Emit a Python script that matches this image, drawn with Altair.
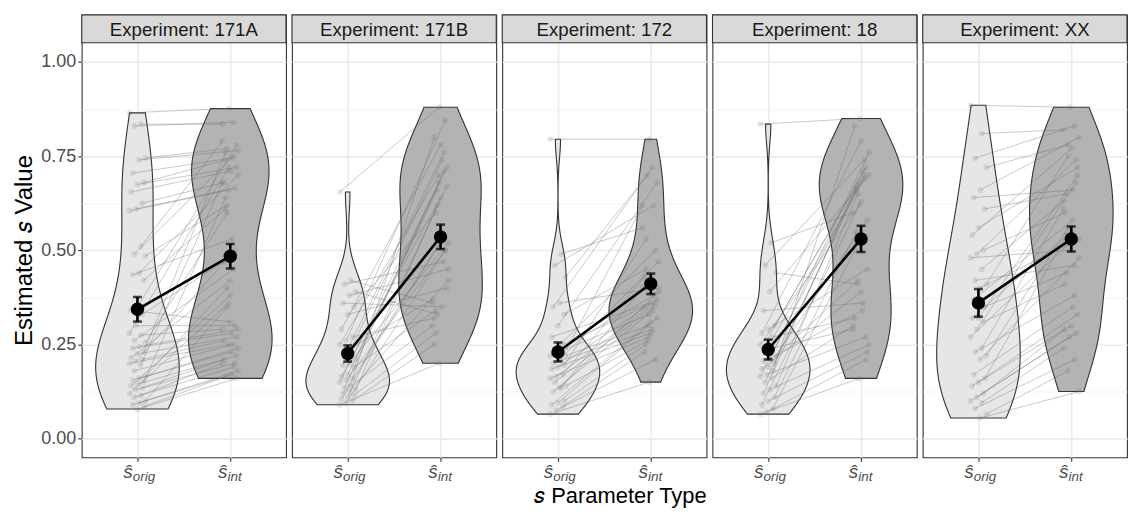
import altair as alt
import pandas as pd

EXPERIMENTS = ["171A", "171B", "172", "18", "XX"]
TYPES = ["orig", "int"]
POS = {"orig": 0, "int": 1}

# paired estimates (orig[i] <-> int[i])
S171A_ORIG = [0.865, 0.835, 0.83, 0.745, 0.74, 0.705, 0.68, 0.675, 0.655, 0.625, 0.61, 0.605,
              0.51, 0.49, 0.485, 0.44, 0.435, 0.42,
              0.35, 0.34, 0.33, 0.30, 0.28, 0.275, 0.26, 0.255, 0.245, 0.24, 0.23, 0.225, 0.215,
              0.21, 0.205, 0.2, 0.195, 0.18, 0.165, 0.16, 0.155, 0.15, 0.145, 0.14, 0.135, 0.13,
              0.12, 0.115, 0.11, 0.1, 0.095, 0.09, 0.085, 0.078]
S171A_INT = [0.877, 0.835, 0.84, 0.77, 0.765, 0.745, 0.74, 0.72, 0.71, 0.68, 0.665, 0.66,
             0.79, 0.75, 0.62, 0.70, 0.53, 0.61,
             0.78, 0.31, 0.47, 0.30, 0.72, 0.29, 0.45, 0.60, 0.29, 0.28, 0.76, 0.27, 0.42,
             0.26, 0.50, 0.25, 0.68, 0.25, 0.40, 0.24, 0.23, 0.64, 0.22, 0.38, 0.21, 0.20,
             0.36, 0.20, 0.19, 0.35, 0.18, 0.17, 0.165, 0.16]

S171B_ORIG = [0.655, 0.42, 0.41, 0.39, 0.38, 0.36, 0.35, 0.33, 0.29, 0.27, 0.26, 0.25, 0.24,
              0.22, 0.21, 0.2, 0.195, 0.19, 0.17, 0.165, 0.16, 0.155, 0.15, 0.14, 0.135, 0.13,
              0.125, 0.12, 0.115, 0.11, 0.105, 0.1, 0.095, 0.09]
S171B_INT = [0.88, 0.36, 0.47, 0.33, 0.45, 0.35, 0.60, 0.40, 0.78, 0.32, 0.845, 0.70, 0.37,
             0.76, 0.66, 0.52, 0.74, 0.34, 0.72, 0.64, 0.80, 0.50, 0.68, 0.30, 0.71, 0.62,
             0.42, 0.53, 0.28, 0.67, 0.52, 0.25, 0.50, 0.20]

S172_ORIG = [0.795, 0.49, 0.46, 0.43, 0.36, 0.35, 0.33, 0.30, 0.27, 0.25, 0.24, 0.22, 0.21,
             0.23, 0.22, 0.21, 0.2, 0.195, 0.19, 0.185, 0.17, 0.165, 0.16, 0.135, 0.15, 0.14,
             0.135, 0.125, 0.1, 0.095, 0.09, 0.085, 0.075, 0.065]
S172_INT = [0.795, 0.56, 0.62, 0.70, 0.40, 0.72, 0.45, 0.68, 0.36, 0.35, 0.50, 0.33, 0.62,
            0.38, 0.30, 0.47, 0.29, 0.53, 0.37, 0.28, 0.43, 0.36, 0.27, 0.40, 0.35, 0.26,
            0.39, 0.34, 0.25, 0.32, 0.31, 0.23, 0.21, 0.15]

S18_ORIG = [0.835, 0.52, 0.46, 0.44, 0.39, 0.34, 0.30, 0.29, 0.28, 0.27, 0.26, 0.25, 0.24,
            0.23, 0.22, 0.21, 0.205, 0.2, 0.19, 0.185, 0.18, 0.17, 0.165, 0.16, 0.15, 0.14,
            0.13, 0.12, 0.11, 0.1, 0.09, 0.08, 0.07, 0.065]
S18_INT = [0.85, 0.60, 0.74, 0.41, 0.70, 0.36, 0.67, 0.45, 0.79, 0.32, 0.72, 0.62, 0.29,
           0.69, 0.42, 0.76, 0.34, 0.66, 0.58, 0.39, 0.83, 0.27, 0.68, 0.30, 0.70, 0.65,
           0.25, 0.71, 0.55, 0.23, 0.63, 0.50, 0.21, 0.16]

SXX_ORIG = [0.885, 0.81, 0.745, 0.72, 0.66, 0.64, 0.61, 0.56, 0.54, 0.50, 0.49, 0.48, 0.45,
            0.42, 0.41, 0.40, 0.37, 0.35, 0.32, 0.32, 0.31, 0.29, 0.27, 0.24, 0.23, 0.22,
            0.21, 0.17, 0.16, 0.15, 0.14, 0.12, 0.11, 0.10, 0.095, 0.08, 0.065, 0.055]
SXX_INT = [0.88, 0.82, 0.83, 0.78, 0.80, 0.66, 0.65, 0.72, 0.77, 0.60, 0.74, 0.50, 0.63,
           0.46, 0.75, 0.53, 0.58, 0.44, 0.70, 0.55, 0.41, 0.68, 0.52, 0.61, 0.38, 0.56,
           0.48, 0.35, 0.54, 0.33, 0.30, 0.29, 0.28, 0.27, 0.24, 0.21, 0.18, 0.125]

PAIRS = {
    "171A": (S171A_ORIG, S171A_INT),
    "171B": (S171B_ORIG, S171B_INT),
    "172": (S172_ORIG, S172_INT),
    "18": (S18_ORIG, S18_INT),
    "XX": (SXX_ORIG, SXX_INT),
}

rows = []
for exp in EXPERIMENTS:
    orig, intv = PAIRS[exp]
    for i, (o, n) in enumerate(zip(orig, intv)):
        rows.append({"exp": exp, "subj": i, "type": "orig", "pos": POS["orig"], "value": o})
        rows.append({"exp": exp, "subj": i, "type": "int", "pos": POS["int"], "value": n})
df = pd.DataFrame(rows)

W, H, STRIP = 205, 444, 28
FONT = "Liberation Sans"
YTITLE = "Estimated \U0001D460 Value"

yscale = alt.Scale(domain=[-0.0495, 1.1251], nice=False, zero=False)
xscale = alt.Scale(domain=[-0.6, 1.6], nice=False, zero=False)
major = "datum.value % 0.25 == 0"
yaxis = alt.Axis(
    values=[0, 0.125, 0.25, 0.375, 0.5, 0.625, 0.75, 0.875, 1.0],
    labelExpr="datum.value % 0.25 == 0 ? format(datum.value, '.2f') : ''",
    labelFontSize=18, labelColor="#4d4d4d", labelFont=FONT, labelPadding=2,
    tickSize=4, tickWidth=1.1, tickColor="#333333",
    tickOpacity={"condition": {"test": major, "value": 1}, "value": 0},
    gridColor={"condition": {"test": major, "value": "#ebebeb"}, "value": "#f2f2f2"},
    gridWidth={"condition": {"test": major, "value": 1.6}, "value": 0.9},
    domain=False, titleFontSize=24, titleFont=FONT, titleFontWeight="normal",
    titleColor="black", titleX=-50, titleY=236, titleAngle=270,
    titleBaseline="alphabetic", titleAlign="center",
)
xaxis = alt.Axis(values=[0, 1], labels=False, tickSize=4, tickWidth=1.1, tickColor="#333333",
                 domain=False, grid=True, gridColor="#ebebeb", gridWidth=1.6, title=None)


def Y(field):
    return alt.Y(field, type="quantitative", scale=yscale, axis=yaxis, title=YTITLE)


def X(field):
    return alt.X(field, type="quantitative", scale=xscale, axis=xaxis, title=None)


base = alt.Chart(df)

violin = base.transform_joinaggregate(
    vmin="min(value)", vmax="max(value)", groupby=["exp", "type"]
).transform_density(
    "value", as_=["v", "dens"], groupby=["exp", "type", "pos", "vmin", "vmax"],
    extent=[0, 1], steps=800,
).transform_filter(
    "datum.v >= datum.vmin && datum.v <= datum.vmax"
).transform_joinaggregate(
    dmax="max(dens)", groupby=["exp", "type"]
).transform_calculate(
    lo="datum.pos - 0.45 * datum.dens / datum.dmax",
    hi="datum.pos + 0.45 * datum.dens / datum.dmax",
).mark_area(orient="horizontal", stroke="#333333", strokeWidth=1.1).encode(
    y=Y("v"),
    x=X("lo"),
    x2="hi:Q",
    fill=alt.Fill("type:N", scale=alt.Scale(domain=TYPES, range=["#e6e6e6", "#b3b3b3"]), legend=None),
)

jit = base.transform_calculate(
    xj="datum.pos + (((datum.subj * 7 + datum.pos * 4) % 11) - 5) * 0.017"
)
lines = jit.mark_line(color="#666666", opacity=0.35, strokeWidth=1).encode(
    x=X("xj"), y=Y("value"), detail="subj:N", order="pos:Q"
)
points = jit.mark_circle(color="#666666", opacity=0.16, size=34).encode(
    x=X("xj"), y=Y("value")
)

summ = base.transform_aggregate(
    mean="mean(value)", se="stderr(value)", groupby=["exp", "type", "pos"]
).transform_calculate(lo="datum.mean - datum.se", hi="datum.mean + datum.se")

meanline = summ.mark_line(color="black", strokeWidth=2.6).encode(
    x=X("pos"), y=Y("mean"), order="pos:Q"
)
ebar = summ.mark_rule(color="black", strokeWidth=2.6).encode(x=X("pos"), y=Y("lo"), y2="hi:Q")
cap_lo = summ.mark_tick(color="black", thickness=2.6, size=9, orient="horizontal").encode(
    x=X("pos"), y=Y("lo"))
cap_hi = summ.mark_tick(color="black", thickness=2.6, size=9, orient="horizontal").encode(
    x=X("pos"), y=Y("hi"))
meanpt = summ.mark_circle(color="black", size=180, opacity=1).encode(x=X("pos"), y=Y("mean"))

ticklab = base.transform_aggregate(
    n="count()", groupby=["exp", "type", "pos"]
).transform_calculate(xl="datum.pos + (datum.type == 'orig' ? -0.05 : -0.03)")
hat = ticklab.mark_text(text="\u015d", font=FONT, fontSize=19, fontStyle="italic", align="right",
                        baseline="alphabetic", color="#4d4d4d").encode(
    x=X("xl"), y=alt.value(H + 21))
subs = ticklab.mark_text(font=FONT, fontSize=13.5, fontStyle="italic", align="left",
                         baseline="alphabetic", color="#4d4d4d").encode(
    x=X("xl"), y=alt.value(H + 24), text="type:N")

strips = base.transform_aggregate(n="count()", groupby=["exp"]).transform_calculate(
    label="'Experiment: ' + datum.exp")
strip_rect = strips.mark_rect(fill="#d9d9d9", stroke="#333333", strokeWidth=1.1).encode(
    x=alt.value(0), x2=alt.value(W), y=alt.value(0), y2=alt.value(STRIP))
strip_text = strips.mark_text(font=FONT, fontSize=18.7, color="#1a1a1a", baseline="middle").encode(
    x=alt.value(W / 2), y=alt.value(STRIP / 2 + 1), text="label:N")

panel = alt.layer(
    violin, lines, points, meanline, ebar, cap_lo, cap_hi, meanpt, hat, subs, strip_rect, strip_text
).properties(width=W, height=H)

chart = panel.facet(
    column=alt.Column("exp:N", sort=EXPERIMENTS, header=None),
    spacing=6,
    bounds="flush",
).properties(
    padding={"left": 5, "top": 4, "right": 0, "bottom": 0},
    title=alt.TitleParams("\U0001D460 Parameter Type", orient="bottom", anchor="middle",
                          frame="bounds", fontSize=22, font=FONT, fontWeight="normal",
                          color="black", offset=1.5, dx=50),
).configure_view(stroke="#333333", strokeWidth=1.1)

chart.save("out.html", embed_options={"renderer": "svg", "actions": False})
